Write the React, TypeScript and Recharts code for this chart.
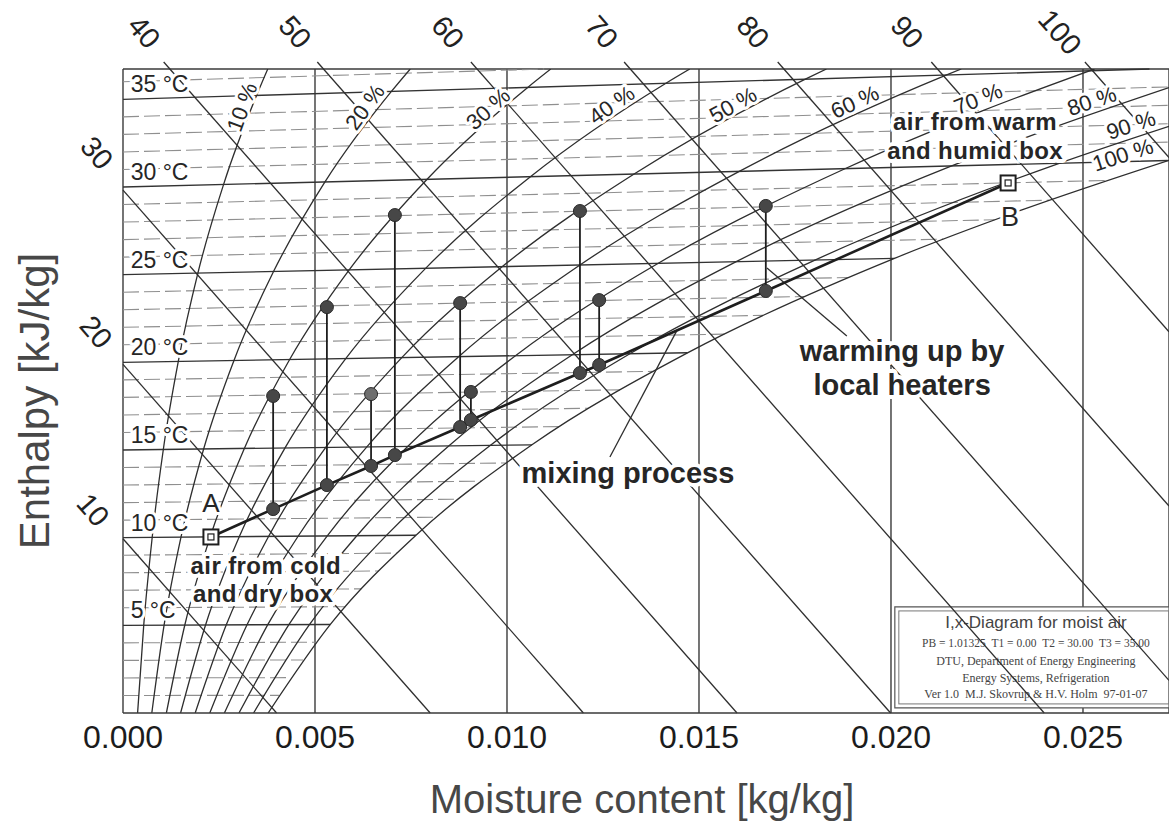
import React from "react";
import {
  ComposedChart,
  Line,
  Scatter,
  XAxis,
  YAxis,
  CartesianGrid,
  ReferenceLine,
  ReferenceArea,
  ReferenceDot,
} from "recharts";

const SANS = '"Liberation Sans", Arial, Helvetica, sans-serif';
const SERIF = '"Liberation Serif", "Times New Roman", serif';

const X_MAX = 0.02724;
const Y_MAX = 36.73;
const xTicks = [0, 0.005, 0.01, 0.015, 0.02, 0.025];

// isotherms: left end at (0, t), right end where they meet 100 % or the frame
const isoTemps = [
  1, 2, 3, 4, 5, 6, 7, 8, 9, 10, 11, 12, 13, 14, 15, 16, 17, 18, 19, 20, 21, 22, 23, 24, 25, 26, 27, 28, 29, 30,
  31, 32, 33, 34, 35, 36,
];
const isoEndX = [
  0.00406, 0.00436, 0.00469, 0.00503, 0.0054, 0.0058, 0.00621, 0.00666, 0.00713, 0.00763, 0.00817, 0.00873,
  0.00933, 0.00997, 0.01065, 0.01137, 0.01213, 0.01294, 0.01379, 0.0147, 0.01566, 0.01667, 0.01775, 0.01888,
  0.02009, 0.02136, 0.0227, 0.02412, 0.02562, 0.02721, 0.02724, 0.02724, 0.02724, 0.02724, 0.02673, 0.01097,
];
const isoEndY = [
  1.008, 2.016, 3.026, 4.037, 5.05, 6.064, 7.08, 8.098, 9.119, 10.141, 11.166, 12.194, 13.224, 14.258, 15.295,
  16.336, 17.381, 18.431, 19.485, 20.544, 21.608, 22.678, 23.755, 24.838, 25.929, 27.027, 28.133, 29.249, 30.374,
  31.51, 32.56, 33.61, 34.66, 35.71, 36.73, 36.73,
];
const tempLabels = [35, 30, 25, 20, 15, 10, 5];

// relative humidity curves [x, y]
const rh10 = [[0.00038, 0], [0.00054, 5.01], [0.00076, 10.01], [0.00105, 15.03], [0.00144, 20.05], [0.00195, 25.09], [0.00262, 30.15], [0.00348, 35.23], [0.00377, 36.73]];
const rh20 = [[0.00075, 0], [0.00107, 5.01], [0.00151, 10.03], [0.0021, 15.06], [0.00289, 20.11], [0.00392, 25.18], [0.00526, 30.29], [0.00699, 35.45], [0.00748, 36.73]];
const rh30 = [[0.00113, 0], [0.00161, 5.02], [0.00227, 10.04], [0.00316, 15.09], [0.00434, 20.16], [0.00589, 25.27], [0.00792, 30.44], [0.01054, 35.68], [0.01114, 36.73]];
const rh40 = [[0.0015, 0], [0.00215, 5.02], [0.00303, 10.06], [0.00422, 15.12], [0.0058, 20.21], [0.00788, 25.36], [0.01061, 30.59], [0.01414, 35.92], [0.01476, 36.73]];
const rh50 = [[0.00188, 0], [0.00269, 5.03], [0.00379, 10.07], [0.00528, 15.15], [0.00726, 20.27], [0.00988, 25.46], [0.01331, 30.74], [0.01777, 36.15], [0.01832, 36.73]];
const rh60 = [[0.00226, 0], [0.00323, 5.03], [0.00456, 10.08], [0.00635, 15.18], [0.00874, 20.32], [0.0119, 25.55], [0.01605, 30.89], [0.02145, 36.39], [0.02183, 36.73]];
const rh70 = [[0.00264, 0], [0.00377, 5.04], [0.00532, 10.1], [0.00742, 15.21], [0.01022, 20.38], [0.01393, 25.64], [0.0188, 31.04], [0.02241, 34.37], [0.0253, 36.73]];
const rh80 = [[0.00302, 0], [0.00432, 5.04], [0.00609, 10.11], [0.00849, 15.24], [0.0117, 20.43], [0.01597, 25.74], [0.02158, 31.2], [0.02429, 33.44], [0.02724, 35.67]];
const rh90 = [[0.0034, 0], [0.00486, 5.05], [0.00686, 10.13], [0.00957, 15.27], [0.0132, 20.49], [0.01802, 25.83], [0.02438, 31.35], [0.02724, 33.46]];
const rh100 = [[0.00378, 0], [0.0054, 5.05], [0.00763, 10.14], [0.01065, 15.3], [0.0147, 20.54], [0.02009, 25.93], [0.02341, 28.69], [0.02724, 31.52]];
const rhCurves = [rh10, rh20, rh30, rh40, rh50, rh60, rh70, rh80, rh90, rh100];
const rhLabels = ["10 %", "20 %", "30 %", "40 %", "50 %", "60 %", "70 %", "80 %", "90 %", "100 %"];
const rhLabelX = [0.0031, 0.0063, 0.00951, 0.01273, 0.01589, 0.01906, 0.02227, 0.02523, 0.02625, 0.02604];
const rhLabelY = [34.56, 34.56, 34.45, 34.68, 34.68, 34.85, 35.02, 34.9, 33.53, 31.82];
const rhLabelAngle = [-70, -54, -42, -35, -29, -25, -22, -19, -18, -18];

// enthalpy lines [kJ/kg]
const enthH = [10, 20, 30, 40, 50, 60, 70, 80, 90, 100];
const enthStart = [[0, 9.94], [0, 19.88], [0, 29.82], [0.00106, 37.13], [0.00506, 37.13], [0.00906, 37.13], [0.01305, 37.13], [0.01705, 37.13], [0.02105, 37.13], [0.02505, 37.13]];
const enthEnd = [[0.004, 0], [0.008, 0], [0.01199, 0], [0.01599, 0], [0.01999, 0], [0.02399, 0], [0.02724, 1.86], [0.02724, 11.8], [0.02724, 21.74], [0.02724, 31.68]];
const enthLabelX = [-0.00078, -0.0007, -0.00068, 0.00055, 0.00448, 0.00846, 0.01247, 0.01641, 0.02042, 0.0244];
const enthLabelY = [11.58, 21.73, 31.94, 38.84, 38.84, 38.84, 38.84, 38.84, 38.84, 38.84];

// mixing process: A, mixed states, B
const mixX = [0.00229, 0.00391, 0.00531, 0.00646, 0.00708, 0.00878, 0.00906, 0.0119, 0.0124, 0.01674, 0.02305];
const mixY = [10.04, 11.63, 13.0, 14.09, 14.71, 16.31, 16.71, 19.39, 19.85, 24.07, 30.23];
// after local heaters (same x as mixed states 1..9)
const heatY = [18.08, 23.15, 18.19, 28.4, 23.38, 18.31, 28.63, 23.55, 28.92];

const mixLine = mixX.map((x, i) => ({ x, y: mixY[i] }));
const lowDots = mixX.slice(1, -1).map((x, i) => ({ x, y: mixY[i + 1] }));
const highDots = lowDots.map((d, i) => ({ x: d.x, y: heatY[i], light: i === 2 }));
const endBoxes = [mixLine[0], mixLine[mixLine.length - 1]];

const Halo = ({ cx, cy, text, size = 22, angle = 0, anchor = "middle", weight = 400, fill = "#262626", halo = 6, family = SANS, spacing = 0 }: any) => (
  <text
    x={cx}
    y={cy}
    transform={angle ? `rotate(${angle} ${cx} ${cy})` : undefined}
    textAnchor={anchor}
    dominantBaseline="central"
    fontSize={size}
    fontWeight={weight}
    fontFamily={family}
    letterSpacing={spacing}
    fill={fill}
    stroke="#fff"
    strokeWidth={halo}
    strokeLinejoin="round"
    paintOrder="stroke"
  >
    {text}
  </text>
);

const note = (key: string, x: number, y: number, text: string, opts: any = {}) => (
  <ReferenceDot
    key={key}
    x={x}
    y={y}
    r={0}
    ifOverflow="visible"
    shape={(p: any) => <Halo cx={p.cx} cy={p.cy} text={text} {...opts} />}
  />
);

const XTitle = ({ viewBox }: any) => (
  <text x={viewBox.x + viewBox.width / 2 - 4} y={viewBox.y + 100} textAnchor="middle" fontSize={40} fontFamily={SANS} fill="#474747">
    Moisture content [kg/kg]
  </text>
);

const YTitle = ({ viewBox }: any) => {
  const cx = 34;
  const cy = viewBox.y + 332;
  return (
    <text x={cx} y={cy} transform={`rotate(-90 ${cx} ${cy})`} textAnchor="middle" dominantBaseline="central" fontSize={42} fontFamily={SANS} fill="#474747">
      Enthalpy [kJ/kg]
    </text>
  );
};

const nb = (s: string) => s.replace(/ /g, "\u00a0");

const InfoBox = ({ viewBox }: any) => {
  const { x, y, width } = viewBox;
  const cx = x + width / 2 + 4;
  return (
    <g>
      <rect x={x + 4} y={y + 4} width={width - 4} height={viewBox.height - 8} fill="none" stroke="#777" strokeWidth={1} />
      <text x={cx} y={y + 21} textAnchor="middle" fontSize={17} fontFamily={SANS} fill="#444">I,x-Diagram for moist air</text>
      <text x={cx} y={y + 40} textAnchor="middle" fontSize={11.5} fontFamily={SERIF} fill="#444">{nb("PB = 1.01325  T1 = 0.00  T2 = 30.00  T3 = 35.00")}</text>
      <text x={cx} y={y + 58} textAnchor="middle" fontSize={12} fontFamily={SERIF} fill="#444">DTU, Department of Energy Engineering</text>
      <text x={cx} y={y + 75} textAnchor="middle" fontSize={12} fontFamily={SERIF} fill="#444">Energy Systems, Refrigeration</text>
      <text x={cx} y={y + 91} textAnchor="middle" fontSize={12} fontFamily={SERIF} fill="#444">{nb("Ver 1.0  M.J. Skovrup & H.V. Holm  97-01-07")}</text>
    </g>
  );
};

const DotShape = (p: any) => (
  <circle cx={p.cx} cy={p.cy} r={6.5} fill={p.payload?.light ? "#6e6e6e" : "#474747"} stroke="#2a2a2a" strokeWidth={1} />
);

const BoxShape = (p: any) => (
  <g>
    <rect x={p.cx - 7.5} y={p.cy - 7.5} width={15} height={15} fill="#fff" stroke="#1e1e1e" strokeWidth={2} />
    <rect x={p.cx - 3} y={p.cy - 3} width={6} height={6} fill="none" stroke="#1e1e1e" strokeWidth={1.2} />
  </g>
);

export default function App() {
  return (
    <div style={{ position: "absolute", left: 0, top: 0, width: 1169, height: 822, background: "#fff" }}>
      <ComposedChart width={1169} height={822} margin={{ top: 69, right: 0, bottom: 0, left: 0 }}>
        <CartesianGrid horizontal={false} stroke="#3a3a3a" strokeWidth={1.4} />
        <XAxis
          type="number"
          dataKey="x"
          domain={[0, X_MAX]}
          allowDataOverflow
          ticks={xTicks}
          interval={0}
          tickFormatter={(v: number) => v.toFixed(3)}
          tick={{ fill: "#1c1c1c", fontSize: 32, fontFamily: SANS }}
          tickLine={false}
          tickMargin={6}
          axisLine={{ stroke: "#3a3a3a", strokeWidth: 1.6 }}
          height={109}
          label={{ content: XTitle }}
        />
        <YAxis
          type="number"
          dataKey="y"
          domain={[0, Y_MAX]}
          allowDataOverflow
          width={123}
          tick={false}
          axisLine={false}
          label={{ content: YTitle }}
        />
        <ReferenceLine y={Y_MAX} stroke="#3a3a3a" strokeWidth={1.4} />

        {isoTemps.map((t, i) => (
          <ReferenceLine
            key={`iso${t}`}
            segment={[{ x: 0, y: t }, { x: isoEndX[i], y: isoEndY[i] }]}
            stroke={t % 5 === 0 ? "#333" : "#8f8f8f"}
            strokeWidth={t % 5 === 0 ? 1.4 : 1.1}
            strokeDasharray={t % 5 === 0 ? undefined : "16 5"}
            ifOverflow="visible"
          />
        ))}

        {enthH.map((h, i) => (
          <ReferenceLine
            key={`h${h}`}
            segment={[{ x: enthStart[i][0], y: enthStart[i][1] }, { x: enthEnd[i][0], y: enthEnd[i][1] }]}
            stroke="#2e2e2e"
            strokeWidth={1.3}
            ifOverflow="visible"
          />
        ))}

        {rhCurves.map((c, i) => (
          <Line
            key={`rh${i}`}
            data={c.map(([x, y]) => ({ x, y }))}
            dataKey="y"
            type="monotone"
            dot={false}
            activeDot={false}
            stroke="#2e2e2e"
            strokeWidth={1.3}
            isAnimationActive={false}
          />
        ))}

        {/* pointer lines from the annotations */}
        <ReferenceLine segment={[{ x: 0.01268, y: 14.6 }, { x: 0.01443, y: 21.84 }]} stroke="#2e2e2e" strokeWidth={1.3} ifOverflow="visible" />
        <ReferenceLine segment={[{ x: 0.01677, y: 25.38 }, { x: 0.01885, y: 21.5 }]} stroke="#2e2e2e" strokeWidth={1.3} ifOverflow="visible" />

        {/* local heaters */}
        {lowDots.map((d, i) => (
          <ReferenceLine
            key={`heat${i}`}
            segment={[{ x: d.x, y: d.y }, { x: d.x, y: heatY[i] }]}
            stroke="#1e1e1e"
            strokeWidth={1.8}
            ifOverflow="visible"
          />
        ))}

        <Line data={mixLine} dataKey="y" type="linear" dot={false} activeDot={false} stroke="#1e1e1e" strokeWidth={2.6} isAnimationActive={false} />
        <Scatter data={lowDots} dataKey="y" shape={DotShape} isAnimationActive={false} />
        <Scatter data={highDots} dataKey="y" shape={DotShape} isAnimationActive={false} />
        <Scatter data={endBoxes} dataKey="y" shape={BoxShape} isAnimationActive={false} />

        <ReferenceArea x1={0.0201} x2={X_MAX} y1={0.29} y2={6.05} fill="#fff" fillOpacity={1} stroke="#555" strokeWidth={1.2} label={{ content: InfoBox }} />

        {rhLabels.map((s, i) => note(`rhl${i}`, rhLabelX[i], rhLabelY[i], s, { angle: rhLabelAngle[i], size: 22 }))}
        {tempLabels.map((t) => note(`tl${t}`, 0.0002, t + 0.85, `${t} °C`, { anchor: "start", size: 23 }))}
        {enthH.map((h, i) => note(`hl${h}`, enthLabelX[i], enthLabelY[i], `${h}`, { angle: 49, size: 29, halo: 0, fill: "#222" }))}

        {note("A", 0.00229, 11.98, "A", { size: 26 })}
        {note("cold1", 0.00372, 8.4, "air from cold", { size: 24, weight: 700, halo: 8, spacing: 0.4 })}
        {note("cold2", 0.00365, 6.8, "and dry box", { size: 24, weight: 700, halo: 8, spacing: 0.4 })}
        {note("warm1", 0.02219, 33.71, "air from warm", { size: 24, weight: 700, halo: 8, spacing: 0.4 })}
        {note("warm2", 0.02219, 32.11, "and humid box", { size: 24, weight: 700, halo: 8, spacing: 0.4 })}
        {note("B", 0.0231, 28.29, "B", { size: 27 })}
        {note("mix", 0.01315, 13.69, "mixing process", { size: 29, weight: 700, halo: 8 })}
        {note("warmup1", 0.02029, 20.62, "warming up by", { size: 29, weight: 700, halo: 8 })}
        {note("warmup2", 0.02029, 18.71, "local heaters", { size: 29, weight: 700, halo: 8 })}
      </ComposedChart>
    </div>
  );
}
